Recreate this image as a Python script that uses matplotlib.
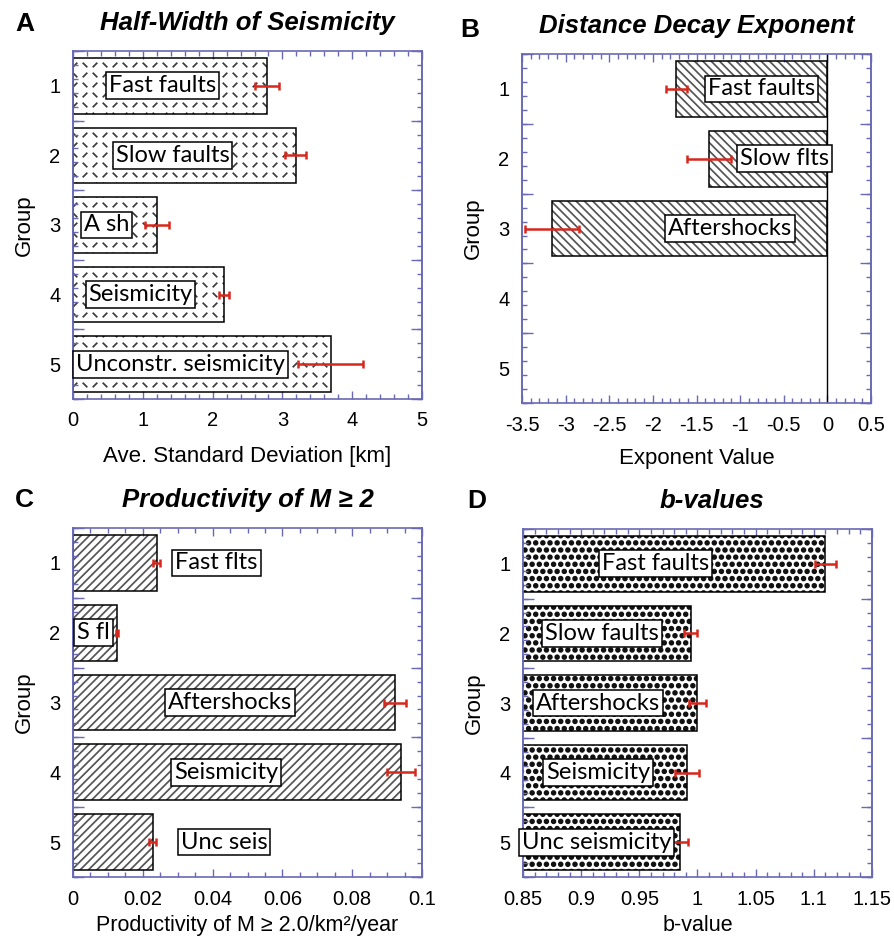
import numpy as np
import matplotlib
matplotlib.use("Agg")
import matplotlib.pyplot as plt
import matplotlib.hatch as mhatch
from matplotlib.path import Path
from matplotlib.ticker import MultipleLocator, FixedLocator, FuncFormatter

plt.rcParams['font.family'] = ['Liberation Sans', 'DejaVu Sans']
plt.rcParams['axes.unicode_minus'] = False
plt.rcParams['hatch.linewidth'] = 1.25

# ---- data ----
groups = [1, 2, 3, 4, 5]

A_vals = [2.78, 3.19, 1.20, 2.16, 3.69]
A_err = [0.17, 0.15, 0.17, 0.07, 0.47]
A_labels = ["Fast faults", "Slow faults", "A sh", "Seismicity", "Unconstr. seismicity"]
A_label_x = [0.51, 0.61, 0.16, 0.22, 0.04]

B_groups = [1, 2, 3]
B_vals = [-1.73, -1.36, -3.16]
B_err = [0.12, 0.25, 0.31]
B_labels = ["Fast faults", "Slow flts", "Aftershocks"]
B_label_x = [-1.365, -1.005, -1.825]

C_vals = [0.0240, 0.0126, 0.0922, 0.0939, 0.0228]
C_err = [0.0010, 0.0003, 0.0032, 0.0040, 0.0011]
C_labels = ["Fast flts", "S fl", "Aftershocks", "Seismicity", "Unc seis"]
C_label_x = [0.0293, 0.0012, 0.0272, 0.0290, 0.0308]

D_vals = [1.110, 0.994, 1.000, 0.991, 0.985]
D_err = [0.009, 0.006, 0.0075, 0.010, 0.007]
D_labels = ["Fast faults", "Slow faults", "Aftershocks", "Seismicity", "Unc seismicity"]
D_label_x = [0.918, 0.869, 0.861, 0.870, 0.849]

spine_col = '#6a6ab4'
err_col = '#d7281e'


# ---- custom hatches: diamond plate ('*') and big dots ('.') ----
class PlateHatch(mhatch.HatchPatternBase):
    def __init__(self, hatch, density):
        self.n = hatch.count('*') * 10
        self.num_vertices = self.n * self.n * 2

    def set_vertices_and_codes(self, vertices, codes):
        n = self.n
        h = 0.17 / n
        k = 0
        for i in range(n):
            for j in range(n):
                cx = (i + 0.5) / n
                cy = (j + 0.5) / n
                s = 1 if (i + j) % 2 == 0 else -1
                vertices[k] = (cx - h, cy - s * h)
                vertices[k + 1] = (cx + h, cy + s * h)
                codes[k] = Path.MOVETO
                codes[k + 1] = Path.LINETO
                k += 2


class BigDots(mhatch.Circles):
    size = 0.26
    filled = True

    def __init__(self, hatch, density):
        self.num_rows = hatch.count('.') * 7
        super().__init__(hatch, density)


mhatch._hatch_types = [t for t in mhatch._hatch_types
                       if t not in (mhatch.Stars, mhatch.SmallFilledCircles)]
mhatch._hatch_types += [PlateHatch, BigDots]


def fmt(v, pos):
    return f'{round(v, 6) + 0:g}'


def style(ax, xlim, xmajor, xminor):
    ax.set_xlim(*xlim)
    ax.set_ylim(5.5, 0.5)
    for s in ax.spines.values():
        s.set_color(spine_col)
        s.set_linewidth(1.2)
    ax.xaxis.set_major_locator(MultipleLocator(xmajor))
    ax.xaxis.set_minor_locator(MultipleLocator(xminor))
    ax.xaxis.set_major_formatter(FuncFormatter(fmt))
    ax.tick_params(axis='x', which='both', direction='in', top=True,
                   color=spine_col, labelsize=14.5, pad=9)
    ax.tick_params(axis='x', which='major', length=5.5, width=1)
    ax.tick_params(axis='x', which='minor', length=3.5, width=1)
    ax.set_yticks(groups)
    ax.yaxis.set_minor_locator(FixedLocator(np.arange(0.5, 5.51, 0.2)))
    ax.tick_params(axis='y', which='major', length=0, labelsize=14.5, pad=9)
    ax.tick_params(axis='y', which='minor', direction='in', right=True,
                   left=True, length=3.5, width=1, color=spine_col)
    for side in ('left', 'right'):
        sec = ax.secondary_yaxis(side)
        sec.set_yticks(np.arange(0.5, 5.6, 1.0))
        sec.tick_params(direction='in', length=8, width=1, color=spine_col,
                        labelleft=False, labelright=False)
        sec.spines[side].set_color(spine_col)
        sec.spines[side].set_linewidth(1.2)
    ax.set_ylabel('Group', fontsize=16)
    ax.yaxis.set_label_coords(-0.11, 0.5)


def bars(ax, ys, vals, err, pattern, hcol, labels, lx):
    ax.barh(ys, vals, height=0.8, color='white', edgecolor=hcol,
            hatch=pattern, linewidth=0, zorder=1)
    ax.barh(ys, vals, height=0.8, fill=False, edgecolor='black',
            linewidth=1.1, zorder=2)
    ax.errorbar(vals, ys, xerr=err, fmt='none', ecolor=err_col,
                elinewidth=1.8, capsize=3, capthick=1.8, zorder=3)
    for x, y, s in zip(lx, ys, labels):
        ax.text(x, y, s, ha='left', va='center', fontsize=17,
                fontfamily=['Lato', 'DejaVu Sans'], zorder=4,
                bbox=dict(boxstyle='square,pad=0.12', fc='white',
                          ec='black', lw=1.1))


fig = plt.figure(figsize=(8.94, 9.41), dpi=100)
axA = fig.add_axes([0.0817, 0.5760, 0.3904, 0.3698])
axB = fig.add_axes([0.5839, 0.5717, 0.3904, 0.3709])
axC = fig.add_axes([0.0817, 0.0680, 0.3904, 0.3709])
axD = fig.add_axes([0.5850, 0.0680, 0.3904, 0.3698])

title_kw = dict(fontsize=18.5, fontweight='bold', fontstyle='italic', pad=15)

# A
style(axA, (0, 5), 1, 0.2)
bars(axA, groups, A_vals, A_err, '*', '#3a3a3a', A_labels, A_label_x)
axA.set_title('Half-Width of Seismicity', **title_kw)
axA.set_xlabel('Ave. Standard Deviation [km]', fontsize=16)
axA.xaxis.set_label_coords(0.5, -0.135)

# B
style(axB, (-3.5, 0.5), 0.5, 0.1)
bars(axB, B_groups, B_vals, B_err, '\\\\\\\\', '#555555', B_labels, B_label_x)
axB.axvline(0, color='black', lw=1, zorder=2)
axB.set_title('Distance Decay Exponent', **title_kw)
axB.set_xlabel('Exponent Value', fontsize=16)
axB.xaxis.set_label_coords(0.5, -0.13)

# C
style(axC, (0, 0.1), 0.02, 0.005)
bars(axC, groups, C_vals, C_err, '////', '#555555', C_labels, C_label_x)
axC.set_title('Productivity of M \u2265 2', **title_kw)
axC.set_xlabel('Productivity of M \u2265 2.0/km\u00b2/year', fontsize=15.5)
axC.xaxis.set_label_coords(0.5, -0.11)

# D
style(axD, (0.85, 1.15), 0.05, 0.01)
bars(axD, groups, D_vals, D_err, '..', '#111111', D_labels, D_label_x)
axD.set_title('b-values', x=0.54, **title_kw)
axD.set_xlabel('b-value', fontsize=15.5)
axD.xaxis.set_label_coords(0.5, -0.11)

letter_kw = dict(fontsize=19, fontweight='bold', ha='left', va='baseline')
fig.text(15 / 894, 1 - 31 / 941, 'A', **letter_kw)
fig.text(460 / 894, 1 - 37 / 941, 'B', **letter_kw)
fig.text(15 / 894, 1 - 507 / 941, 'C', **letter_kw)
fig.text(467 / 894, 1 - 508 / 941, 'D', **letter_kw)

fig.savefig('out.png', dpi=100)
